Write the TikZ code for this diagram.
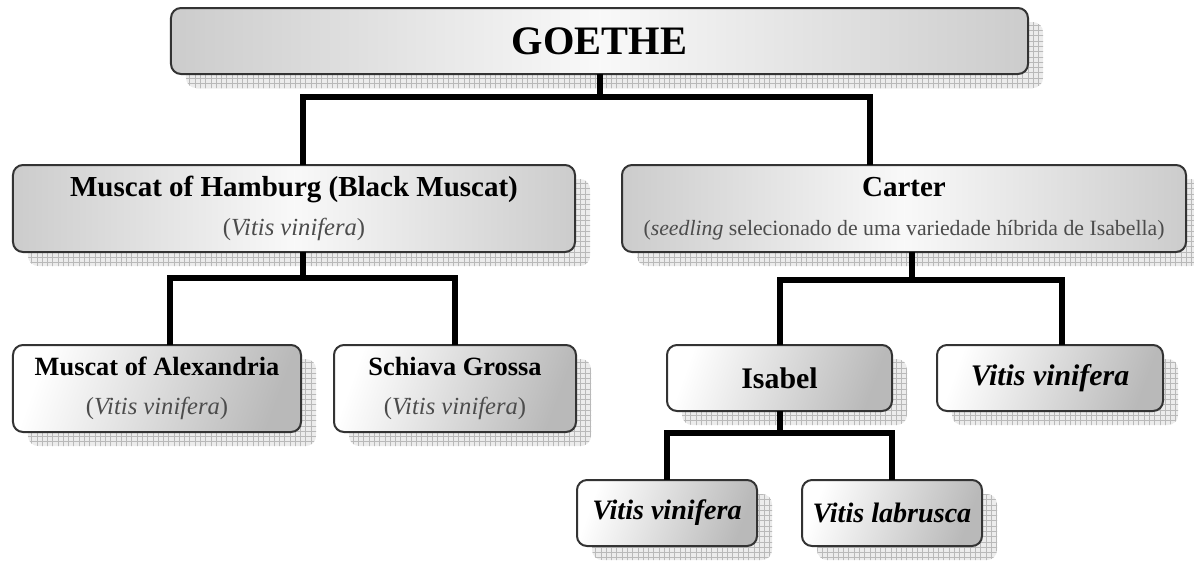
\documentclass[tikz,border=0pt]{standalone}
\usepackage{fontspec}
\setmainfont{Liberation Serif}
\usetikzlibrary{positioning,shadows,patterns}

\newcommand{\subline}[1]{{\fontsize{14}{15}\selectfont\mdseries\color{black!70}#1}}

\begin{document}
\begin{tikzpicture}[x=0.2mm,y=-0.2mm,
	box/.style={draw=black!80,line width=0.4mm,rounded corners=2mm,inner sep=0pt,outer sep=0pt,align=center,font=\fontsize{15}{19}\selectfont\bfseries,drop shadow={shadow xshift=3mm,shadow yshift=-2.8mm,opacity=1,fill=gray!15,postaction={pattern=grid,pattern color=gray!55}}},
	bigbox/.style={box,left color=gray!40,right color=gray!40,middle color=gray!5,font=\fontsize{16.5}{20}\selectfont\bfseries},
	smallbox/.style={box,left color=white,right color=gray!55,shading angle=70},
	link/.style={line width=1.2mm,black}]
	\useasboundingbox (0,0) rectangle (1194,563);

	\node [bigbox,minimum width=171.4mm,minimum height=13.2mm,font=\fontsize{23}{26}\selectfont\bfseries] at (599.5,41) (goethe) {GOETHE};

	\node [bigbox,minimum width=112.4mm,minimum height=17.4mm] at (294,208.5) (hamburg) {Muscat of Hamburg (Black Muscat)\\[2pt] \subline{(\textit{Vitis vinifera})}};
	\node [bigbox,minimum width=112.8mm,minimum height=17.4mm] at (904,208.5) (carter) {Carter\\[2pt] \subline{\fontsize{12.4}{15}\selectfont(\textit{seedling} selecionado de uma variedade híbrida de Isabella)}};

	\node [smallbox,minimum width=57.6mm,minimum height=17.4mm] at (157,388.5) (alexandria) {Muscat of Alexandria\\[3pt] \subline{(\textit{Vitis vinifera})}};
	\node [smallbox,minimum width=48.4mm,minimum height=17.4mm] at (455,388.5) (schiava) {Schiava Grossa\\[3pt] \subline{(\textit{Vitis vinifera})}};

	\node [smallbox,minimum width=45mm,minimum height=13.2mm,font=\fontsize{17}{20}\selectfont\bfseries] at (779.5,378) (isabel) {Isabel};
	\node [smallbox,minimum width=45.2mm,minimum height=13.2mm,font=\fontsize{17}{20}\selectfont\bfseries] at (1050,378) (vinifera1) {\textit{Vitis vinifera}};

	\node [smallbox,minimum width=36mm,minimum height=13.2mm,font=\fontsize{16}{20}\selectfont\bfseries] at (667,513) (vinifera2) {\textit{Vitis vinifera}};
	\node [smallbox,minimum width=36mm,minimum height=13.2mm,font=\fontsize{16}{20}\selectfont\bfseries] at (892,513) (labrusca) {\textit{Vitis labrusca}};

	\draw[link] (goethe.south) -- ++(0,23) coordinate (gj);
	\draw[link] ([xshift=1.8mm]hamburg.north) |- (gj) -| ([xshift=-6.8mm]carter.north);

	\draw[link] ([xshift=1.8mm]hamburg.south) -- ++(0,26) coordinate (hj);
	\draw[link] ([xshift=2.6mm]alexandria.north) |- (hj) -| (schiava.north);

	\draw[link] ([xshift=1.6mm]carter.south) -- ++(0,28) coordinate (cj);
	\draw[link] (isabel.north) |- (cj) -| ([xshift=2.4mm]vinifera1.north);

	\draw[link] (isabel.south) -- ++(0,22) coordinate (ij);
	\draw[link] (vinifera2.north) |- (ij) -| (labrusca.north);
\end{tikzpicture}
\end{document}
